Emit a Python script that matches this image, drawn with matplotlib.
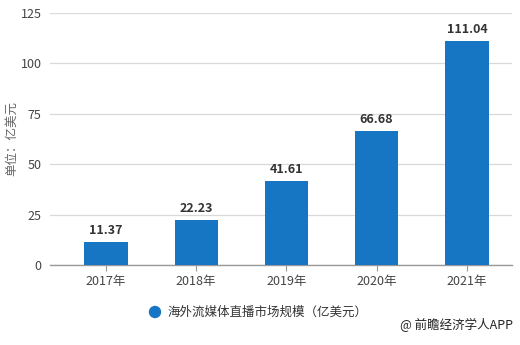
import matplotlib
matplotlib.use("Agg")
import matplotlib.pyplot as plt
from matplotlib.patches import Ellipse

plt.rcParams['font.family'] = ['Noto Sans CJK SC', 'DejaVu Sans']

years = ["2017年", "2018年", "2019年", "2020年", "2021年"]
values = [11.37, 22.23, 41.61, 66.68, 111.04]
yticks = [0, 25, 50, 75, 100, 125]
series_name = "海外流媒体直播市场规模（亿美元）"
y_label = "单位：亿美元"
source = "@ 前瞻经济学人APP"

bar_color = "#1776c4"
W, H = 520, 345

fig = plt.figure(figsize=(W / 100, H / 100), dpi=100)
ax = fig.add_axes([50 / W, 1 - 265 / H, 462 / W, 252 / H])

x = list(range(len(years)))
ax.bar(x, values, width=0.48, color=bar_color, zorder=3)
for xi, v in zip(x, values):
    ax.text(xi, v + 2.5, f"{v:.2f}", ha="center", va="bottom",
            fontsize=9, fontweight="bold", color="#333333", zorder=4)

ax.set_xlim(-0.62, 4.5)
ax.set_ylim(0, 125)
ax.set_yticks(yticks)
ax.set_xticks(x)
ax.set_xticklabels(years)
ax.yaxis.grid(True, color="#d9d9d9", linewidth=0.9, zorder=0)
ax.set_axisbelow(True)

for s in ["top", "right", "left"]:
    ax.spines[s].set_visible(False)
ax.spines["bottom"].set_color("#999999")
ax.spines["bottom"].set_linewidth(1.0)

ax.tick_params(axis="y", length=0, labelsize=9, labelcolor="#444444", pad=6)
ax.tick_params(axis="x", length=4, color="#999999", labelsize=9,
               labelcolor="#444444", pad=3)

fig.text(12 / W, 1 - 139 / H, y_label, rotation=90, ha="center",
         va="center", fontsize=9, color="#666666")

# legend row: round marker + series name
fig.patches.append(Ellipse(
    (155 / W, 1 - 312 / H), 11 / W, 11 / H, transform=fig.transFigure,
    color=bar_color, figure=fig))
fig.text(168 / W, 1 - 312 / H, series_name, ha="left", va="center",
         fontsize=9, color="#333333")

fig.text(513 / W, 1 - 325 / H, source, ha="right", va="center",
         fontsize=9, color="#222222")

fig.savefig("out.png", dpi=100)
